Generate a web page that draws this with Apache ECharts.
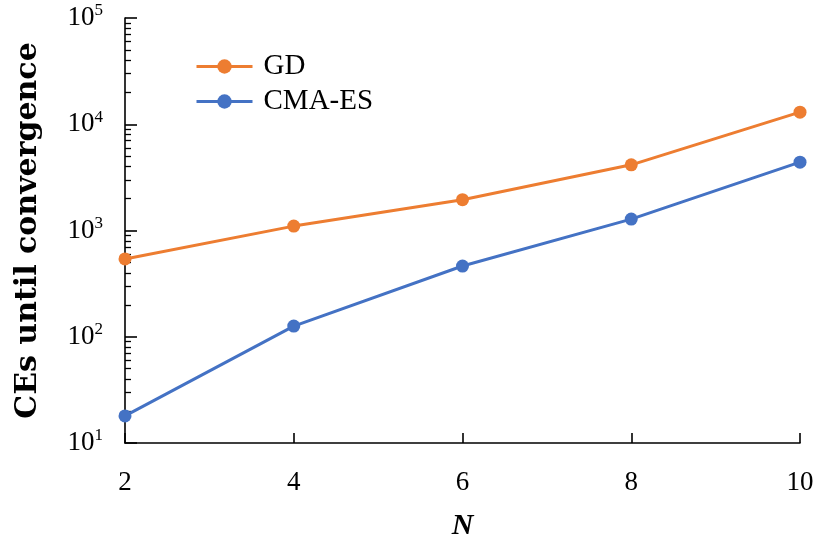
<!DOCTYPE html>
<html>
<head>
<meta charset="utf-8">
<script src="https://cdn.jsdelivr.net/npm/echarts@6/dist/echarts.min.js"></script>
<style>html,body{margin:0;padding:0;background:#fff}#c{width:816px;height:545px}</style>
</head>
<body>
<div id="c"></div>
<script>
const nValues = [2, 4, 6, 8, 10];
const gdValues = [540, 1100, 1950, 4150, 13000];
const cmaValues = [18, 126, 463, 1280, 4400];
const seriesNames = ['GD', 'CMA-ES'];
const yMajorTicks = [10, 100, 1000, 10000, 100000];
const yMinorTicks = [];
for (let e = 1; e < 5; e++) for (let m = 2; m <= 9; m++) yMinorTicks.push(m * Math.pow(10, e));

const FONT = '"Liberation Serif", "DejaVu Serif", serif';
const BOLDFONT = '"DejaVu Serif", "Liberation Serif", serif';
const chart = echarts.init(document.getElementById('c'), null, {renderer: 'canvas'});
const axisBase = {
  type: 'log', logBase: 10, min: 10, max: 100000, position: 'left', offset: 0,
  splitLine: {show: false}
};
chart.setOption({
  animation: false,
  backgroundColor: '#fff',
  grid: {left: 125, right: 16, top: 18, bottom: 102, containLabel: false, outerBoundsMode: 'none'},
  legend: {
    left: 190, top: 47, orient: 'vertical', itemWidth: 56, itemHeight: 18, itemGap: 6,
    lineStyle: {width: 3},
    textStyle: {fontFamily: FONT, fontSize: 29, color: '#000', lineHeight: 29, padding: [0, 0, 0, 6]},
    data: seriesNames
  },
  xAxis: {
    type: 'value', min: 2, max: 10, interval: 2,
    name: 'N', nameLocation: 'middle', nameGap: 68,
    nameTextStyle: {fontFamily: FONT, fontSize: 30, fontWeight: 'bold', fontStyle: 'italic', color: '#000'},
    axisLine: {lineStyle: {color: '#000', width: 1.6}},
    axisTick: {show: true, inside: true, length: 10, lineStyle: {color: '#000', width: 1.6}},
    axisLabel: {fontFamily: FONT, fontSize: 27, color: '#000', margin: 26},
    splitLine: {show: false}
  },
  yAxis: [
    Object.assign({}, axisBase, {
      name: 'CEs until convergence', nameLocation: 'middle', nameGap: 82, nameRotate: 90,
      nameTextStyle: {fontFamily: BOLDFONT, fontSize: 30, fontWeight: 'bold', color: '#000'},
      axisLine: {show: true, lineStyle: {color: '#000', width: 1.6}},
      axisTick: {show: true, inside: true, length: 12, lineStyle: {color: '#000', width: 1.6}, customValues: yMajorTicks},
      axisLabel: {
        fontFamily: FONT, fontSize: 27, color: '#000', margin: 22, customValues: yMajorTicks,
        formatter: v => '10{sup|' + Math.round(Math.log10(v)) + '}',
        rich: {sup: {fontFamily: FONT, fontSize: 17, color: '#000', verticalAlign: 'top', padding: [0, 0, 14, 0]}}
      }
    }),
    Object.assign({}, axisBase, {
      axisLine: {show: false},
      axisTick: {show: true, inside: true, length: 6, lineStyle: {color: '#000', width: 1.3}, customValues: yMinorTicks},
      axisLabel: {show: false}
    })
  ],
  series: [
    {
      name: seriesNames[0], type: 'line', yAxisIndex: 0,
      data: nValues.map((n, i) => [n, gdValues[i]]),
      symbol: 'circle', symbolSize: 13,
      itemStyle: {color: '#ED7D31'}, lineStyle: {color: '#ED7D31', width: 3}
    },
    {
      name: seriesNames[1], type: 'line', yAxisIndex: 0,
      data: nValues.map((n, i) => [n, cmaValues[i]]),
      symbol: 'circle', symbolSize: 13,
      itemStyle: {color: '#4472C4'}, lineStyle: {color: '#4472C4', width: 3}
    }
  ]
});
</script>
</body>
</html>
